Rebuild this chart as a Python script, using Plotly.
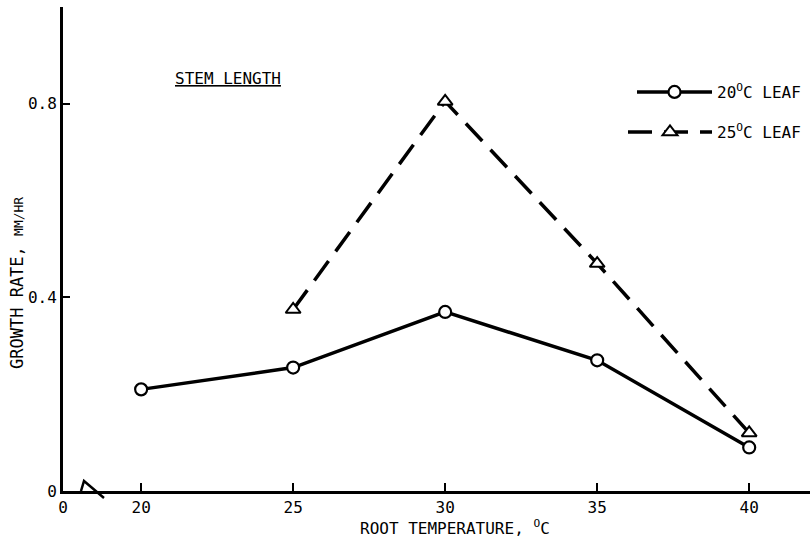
import plotly.graph_objects as go

# ---- data ----
root_temp_20 = [20, 25, 30, 35, 40]
growth_20 = [0.21, 0.255, 0.37, 0.27, 0.09]
root_temp_25 = [25, 30, 35, 40]
growth_25 = [0.375, 0.805, 0.47, 0.12]

x_tick_vals = [17.43, 20, 25, 30, 35, 40]
x_tick_text = ["0", "20", "25", "30", "35", "40"]
y_tick_vals = [0, 0.4, 0.8]
y_tick_text = ["0", "0.4", "0.8"]

FONT = "DejaVu Sans Mono, Liberation Mono, monospace"

fig = go.Figure()

fig.add_trace(go.Scatter(
    x=root_temp_20, y=growth_20, mode="lines+markers",
    name="20<sup>O</sup>C LEAF", legend="legend",
    line=dict(color="black", width=3.5),
    marker=dict(symbol="circle", size=12, color="white",
                line=dict(color="black", width=2.2)),
))
fig.add_trace(go.Scatter(
    x=root_temp_25, y=growth_25, mode="lines+markers",
    name="25<sup>O</sup>C LEAF", legend="legend2",
    line=dict(color="black", width=3.5, dash="24px,12px"),
    marker=dict(symbol="triangle-up", size=13, color="white",
                line=dict(color="black", width=2)),
))

W, H = 812, 540
L, R, T, B = 63, 2, 7, 49

def px_x(p):
    return (p - L) / (W - L - R)

def px_y(p):
    return (H - B - p) / (H - T - B)

fig.update_layout(
    width=W, height=H,
    margin=dict(l=L, r=R, t=T, b=B),
    paper_bgcolor="white", plot_bgcolor="white",
    font=dict(family=FONT, size=16, color="black"),
    xaxis=dict(range=[17.43, 42.0], showline=True, linewidth=3, linecolor="black",
               ticks="inside", ticklen=8, tickwidth=2, tickcolor="black",
               showgrid=False, zeroline=False,
               tickvals=x_tick_vals, ticktext=x_tick_text,
               tickfont=dict(size=16, family=FONT)),
    yaxis=dict(range=[0, 1.0], showline=True, linewidth=3, linecolor="black",
               ticks="inside", ticklen=7, tickwidth=2, tickcolor="black",
               showgrid=False, zeroline=False,
               tickvals=y_tick_vals, ticktext=y_tick_text,
               tickfont=dict(size=16, family=FONT)),
    legend=dict(x=px_x(632), y=px_y(75), xanchor="left", yanchor="top",
                bgcolor="rgba(0,0,0,0)", itemwidth=75,
                font=dict(size=16, family=FONT)),
    legend2=dict(x=px_x(623), y=px_y(115), xanchor="left", yanchor="top",
                 bgcolor="rgba(0,0,0,0)", itemwidth=84,
                 font=dict(size=16, family=FONT)),
    showlegend=True,
)

# axis break symbol near the origin
fig.add_shape(type="path", xref="paper", yref="paper",
              path=f"M {px_x(81)},{px_y(491)} L {px_x(84)},{px_y(481)} L {px_x(104)},{px_y(498)}",
              line=dict(color="black", width=2.5))

fig.add_annotation(text="<u>STEM LENGTH</u>", xref="paper", yref="paper",
                   x=px_x(228), y=px_y(78), showarrow=False,
                   xanchor="center", yanchor="middle",
                   font=dict(size=16, family=FONT))
fig.add_annotation(text="GROWTH RATE, <span style='font-size:13px'>MM/HR</span>",
                   xref="paper", yref="paper", x=px_x(17), y=px_y(283),
                   textangle=-90, showarrow=False, xanchor="center", yanchor="middle",
                   font=dict(size=17, family=FONT))
fig.add_annotation(text="ROOT TEMPERATURE, <sup>O</sup>C",
                   xref="paper", yref="paper", x=px_x(455), y=px_y(527),
                   showarrow=False, xanchor="center", yanchor="middle",
                   font=dict(size=16, family=FONT))

fig.write_html("out.html")
